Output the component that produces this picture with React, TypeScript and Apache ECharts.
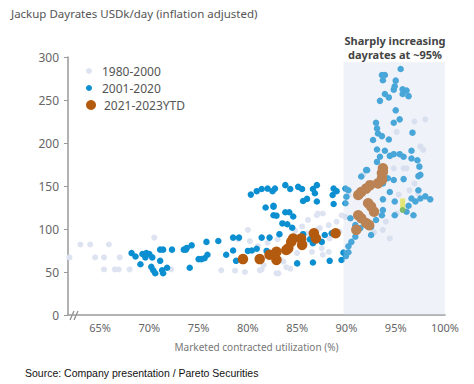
import React, { useEffect, useRef } from "react";
import * as echarts from "echarts";

const xTickValues = [65, 70, 75, 80, 85, 90, 95, 100];
const yTickValues = [0, 50, 100, 150, 200, 250, 300];
const seriesNames = ["1980-2000", "2001-2020", "2021-2023YTD"];

const light1980: number[][] = [
  [61.9, 67], [63.0, 82], [64.0, 82], [65.9, 82], [64.5, 67], [65.4, 67], [67.0, 67], [65.4, 53], [66.5, 53], [66.9, 53], [68.0, 53],
  [70.5, 90], [72.2, 53], [77.3, 52], [78.7, 51.5], [79.7, 50], [81.2, 52], [81.4, 53], [81.6, 58], [82.9, 48.5], [83.1, 48.5],
  [83.6, 62], [83.3, 64], [83.9, 55.5], [84.3, 54], [84.3, 77.5], [85.0, 72], [85.8, 85], [86.0, 95], [86.3, 93], [86.5, 73.5],
  [87.0, 99], [87.3, 101], [87.5, 77.5], [87.6, 70], [88.2, 73.5], [88.2, 104.5], [88.3, 89], [89.0, 108.5], [89.3, 97],
  [89.9, 114], [89.5, 116], [87.0, 116], [86.1, 110.5], [87.1, 118], [87.6, 118], [80.0, 99], [80.2, 86], [79.0, 88],
  [81.0, 80], [82.0, 84], [83.0, 88], [84.8, 98], [85.5, 103], [93.7, 99], [94.0, 108.5], [94.4, 89], [95.1, 118],
  [96.4, 145], [96.9, 153], [97.3, 141.5], [96.9, 225], [98.0, 227.5], [95.1, 213], [97.5, 196], [97.8, 192],
  [94.8, 170.5], [95.8, 170.5], [91.7, 163], [96.1, 170.5], [90.2, 139.5], [92.8, 96], [95.3, 140]
];

const blue2001: number[][] = [
  [68.2, 72], [68.6, 68], [69.1, 59], [69.3, 71], [69.7, 72], [70.0, 71], [69.6, 67], [70.3, 67], [70.2, 56], [70.4, 52],
  [70.6, 48.5], [71.1, 76], [71.4, 76], [71.1, 63], [71.3, 52], [71.4, 48.5], [71.8, 55], [72.3, 76], [73.5, 76], [73.7, 76],
  [74.3, 81], [73.8, 78], [74.1, 55], [75.0, 65], [75.3, 65], [75.6, 66], [75.9, 70], [75.8, 85], [77.0, 86], [77.8, 70],
  [78.5, 90], [79.1, 90], [78.5, 75], [78.8, 63], [80.0, 74.5], [80.4, 75], [80.9, 77], [81.9, 74.5], [81.4, 90], [82.2, 90],
  [80.3, 140], [80.9, 144], [81.4, 146.5], [82.0, 147], [82.5, 144], [81.8, 125], [82.6, 127], [82.75, 147], [83.8, 151],
  [84.3, 146.5], [85.1, 149], [85.5, 146.5], [86.6, 146.5], [87.0, 151], [86.8, 141.5], [88.7, 147], [89.0, 144], [88.6, 139.5],
  [85.6, 132.5], [86.0, 135], [87.0, 132], [88.7, 129], [82.6, 126], [82.6, 116], [82.9, 115.5], [83.8, 119.5], [84.2, 119.5],
  [84.6, 114.5], [83.5, 106.5], [84.0, 105.5], [84.5, 101.5], [85.6, 94], [86.3, 88], [87.8, 93], [88.5, 95], [83.2, 94],
  [86.6, 83.5], [87.5, 85], [85.0, 60], [86.6, 61], [88.3, 63], [89.5, 64], [89.95, 68.5], [90.2, 73],
  [89.7, 72.5], [90.2, 80], [90.5, 85], [90.9, 91], [91.4, 101], [90.9, 104.5], [90.4, 112.5], [89.9, 130], [90.0, 137.5],
  [90.2, 145], [89.9, 147], [91.5, 161], [92.0, 168.5], [92.5, 102.5], [92.5, 93], [93.0, 110.5], [93.7, 134.5], [93.7, 122],
  [93.6, 116], [94.9, 132], [94.9, 116], [96.1, 120], [96.3, 127], [96.8, 116], [96.6, 135.5], [97.0, 132], [97.5, 135.5],
  [98.0, 138], [98.5, 134.5], [97.3, 145], [97.3, 161.5], [94.4, 143], [94.8, 157], [95.8, 158], [93.7, 153], [94.2, 159],
  [95.5, 286], [93.6, 279], [93.9, 279], [93.7, 273], [95.0, 272.5], [94.9, 266], [95.7, 262.5], [96.1, 261], [94.8, 262],
  [95.7, 257], [96.3, 254.5], [93.9, 257], [94.3, 253], [93.4, 249], [95.0, 238], [94.8, 223.5], [95.4, 227.5], [93.0, 223.5],
  [93.1, 217], [93.2, 211], [93.6, 208], [94.3, 204], [96.7, 212], [92.7, 203.5], [93.1, 192.5], [93.9, 191], [93.4, 184],
  [94.4, 185], [94.8, 187], [95.4, 187], [95.8, 184], [96.6, 191], [96.6, 182], [97.2, 180], [93.1, 178], [92.1, 168.5],
  [97.4, 172.5], [97.5, 163]
];

const brown2021: number[][] = [
  [79.5, 65], [81.2, 65], [82.2, 70], [82.9, 73.5], [82.9, 64], [83.9, 75.5], [84.1, 77.5], [84.4, 85], [84.6, 89], [85.4, 89],
  [85.5, 81.5], [86.7, 95], [86.9, 89], [88.9, 95], [91.0, 99], [91.2, 116], [91.5, 112.5], [92.0, 107], [92.3, 104.5],
  [92.2, 130], [92.5, 126], [92.8, 120], [91.2, 139.5], [91.5, 143], [92.0, 147], [92.4, 151], [93.2, 153], [93.6, 157],
  [93.6, 159], [93.6, 165], [93.7, 170.5], [93.7, 166.5]
];

const highlightBar: number[][] = [[95.7, 128]];
const highlightDot: number[][] = [[95.7, 122]];
const shadeRange = { x0: 89.7, x1: 100.2, y0: 0, y1: 294 };
const annotationLines = ["Sharply increasing", "dayrates at ~95%"];

const FONT = "Noto Sans";

export default function App() {
  const ref = useRef<HTMLDivElement>(null);
  useEffect(() => {
    if (!ref.current) return;
    const chart = echarts.init(ref.current, undefined, { renderer: "svg" });
    const legendBase = {
      orient: "vertical" as const,
      left: 81,
      itemWidth: 16,
      itemGap: 0,
      icon: "circle",
      textStyle: { color: "#555", fontSize: 12, fontFamily: FONT },
      selectedMode: false,
    };
    chart.setOption({
      animation: false,
      backgroundColor: "#fff",
      title: {
        text: "Jackup Dayrates USDk/day (inflation adjusted)",
        left: 6,
        top: 2,
        textStyle: { color: "#555", fontSize: 11.5, fontWeight: "normal", fontFamily: FONT },
      },
      legend: [
        { ...legendBase, top: 60, itemHeight: 6, data: [seriesNames[0]] },
        { ...legendBase, top: 77, itemHeight: 6, data: [seriesNames[1]] },
        { ...legendBase, top: 94, itemHeight: 10, data: [seriesNames[2]] },
      ],
      grid: { left: 68, right: 29, top: 57, bottom: 69 },
      xAxis: {
        type: "value",
        min: 61.75,
        max: 100,
        name: "Marketed contracted utilization (%)",
        nameLocation: "middle",
        nameGap: 27,
        nameTextStyle: { color: "#777", fontSize: 10, fontFamily: FONT },
        axisLine: { show: true, lineStyle: { color: "#999", width: 1.5 } },
        axisTick: { show: false },
        splitLine: { show: false },
        axisLabel: {
          customValues: xTickValues,
          formatter: (v: number) => v + "%",
          color: "#666",
          fontSize: 11,
          margin: 7,
          fontFamily: FONT,
        },
      },
      yAxis: {
        type: "value",
        min: 0,
        max: 300,
        interval: 50,
        axisLine: { show: true, lineStyle: { color: "#999", width: 1.5 } },
        axisTick: { show: true, length: 4, lineStyle: { color: "#999" } },
        splitLine: { show: false },
        axisLabel: {
          customValues: yTickValues,
          color: "#666",
          fontSize: 12,
          margin: 9,
          fontFamily: FONT,
        },
      },
      series: [
        {
          name: seriesNames[0],
          type: "scatter",
          data: light1980,
          symbolSize: 6,
          itemStyle: { color: "#dde3f1", opacity: 1 },
          z: 2,
        },
        {
          name: seriesNames[1],
          type: "scatter",
          data: blue2001,
          symbolSize: 6.5,
          itemStyle: { color: "#0b8fd1", opacity: 1 },
          z: 3,
        },
        {
          name: seriesNames[2],
          type: "scatter",
          data: brown2021,
          symbolSize: 10.5,
          itemStyle: { color: "#b35a0e", opacity: 1 },
          z: 4,
        },
        {
          type: "scatter",
          data: highlightBar,
          symbol: "rect",
          symbolSize: [5, 13],
          itemStyle: { color: "#eaea10" },
          z: 5,
        },
        {
          type: "scatter",
          data: highlightDot,
          symbolSize: 6,
          itemStyle: { color: "#3aa02a" },
          z: 6,
        },
        {
          type: "scatter",
          data: [],
          z: 20,
          silent: true,
          markArea: {
            silent: true,
            z: 20,
            itemStyle: { color: "rgba(204,216,234,0.32)" },
            data: [[
              { xAxis: shadeRange.x0, yAxis: shadeRange.y0 },
              { xAxis: shadeRange.x1, yAxis: shadeRange.y1 },
            ]],
          },
        },
      ],
      graphic: [
        {
          type: "text",
          x: 395,
          y: 40.5,
          z: 30,
          style: {
            text: annotationLines[0],
            fill: "#444",
            font: `bold 11px "${FONT}"`,
            textAlign: "center",
            textVerticalAlign: "middle",
          },
        },
        {
          type: "text",
          x: 395,
          y: 54.5,
          z: 30,
          style: {
            text: annotationLines[1],
            fill: "#444",
            font: `bold 11px "${FONT}"`,
            textAlign: "center",
            textVerticalAlign: "middle",
          },
        },
        {
          type: "line",
          shape: { x1: 70, y1: 320, x2: 74, y2: 311 },
          style: { stroke: "#888", lineWidth: 1.2 },
        },
        {
          type: "line",
          shape: { x1: 74, y1: 320, x2: 78, y2: 311 },
          style: { stroke: "#888", lineWidth: 1.2 },
        },
        {
          type: "text",
          left: 25,
          top: 367,
          style: {
            text: "Source: Company presentation / Pareto Securities",
            fill: "#111",
            font: `10.5px "Liberation Sans"`,
          },
        },
      ],
    });
    return () => chart.dispose();
  }, []);
  return (
    <div
      ref={ref}
      style={{ position: "fixed", left: 0, top: 0, width: 474, height: 384 }}
    />
  );
}
